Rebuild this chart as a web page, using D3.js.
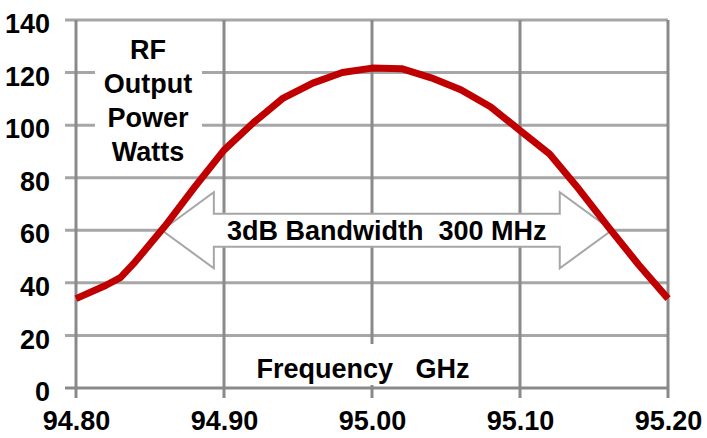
<!DOCTYPE html>
<html>
<head>
<meta charset="utf-8">
<script src="https://cdn.jsdelivr.net/npm/d3@7/dist/d3.min.js"></script>
<style>
  body { margin: 0; background: #fff; }
  text { font-family: "Liberation Sans", Arial, sans-serif; font-weight: bold; fill: #000; }
</style>
</head>
<body>
<div id="chart-area"></div>
<script>
// data
var freqs  = [94.80, 94.82, 94.83, 94.84, 94.86, 94.88, 94.90, 94.92, 94.94, 94.96, 94.98,
              95.00, 95.02, 95.04, 95.06, 95.08, 95.10, 95.12, 95.14, 95.16, 95.18, 95.20];
var power  = [34, 39, 42, 48, 61.5, 76.3, 90.5, 101, 110.3, 116, 120,
              121.7, 121.5, 118, 113.5, 107, 98, 89, 75.5, 61, 47, 34];
var xTicks = [94.80, 94.90, 95.00, 95.10, 95.20];
var yTicks = [0, 20, 40, 60, 80, 100, 120, 140];
var bandEdges = [94.858, 95.162];   // 3dB points
var bandLevel = 60;

var margin = { top: 20, right: 39, bottom: 50, left: 76 },
    width = 707 - margin.left - margin.right,
    height = 438 - margin.top - margin.bottom;

var svg = d3.select("#chart-area")
    .append("svg")
    .attr("width", width + margin.left + margin.right)
    .attr("height", height + margin.top + margin.bottom);

var g = svg.append("g")
    .attr("transform", "translate(" + margin.left + "," + margin.top + ")");

var x = d3.scaleLinear().domain([94.80, 95.20]).range([0, width]);
var y = d3.scaleLinear().domain([0, 140]).range([height, 0]);

// horizontal grid (sticks out left as tick marks)
g.selectAll(".hgrid")
    .data(yTicks)
    .enter().append("line")
    .attr("class", "hgrid")
    .attr("x1", -11)
    .attr("x2", width)
    .attr("y1", d => y(d))
    .attr("y2", d => y(d))
    .attr("stroke", d => d === 0 ? "#8a8a8a" : "#a6a6a6")
    .attr("stroke-width", 3);

// vertical grid (sticks out below as tick marks)
g.selectAll(".vgrid")
    .data(xTicks)
    .enter().append("line")
    .attr("class", "vgrid")
    .attr("x1", d => x(d))
    .attr("x2", d => x(d))
    .attr("y1", 0)
    .attr("y2", height + 10)
    .attr("stroke", "#8a8a8a")
    .attr("stroke-width", 3);

// axis labels
var yAxisCall = d3.axisLeft(y).tickValues(yTicks).tickSize(0).tickPadding(26);
var xAxisCall = d3.axisBottom(x).tickValues(xTicks).tickSize(0).tickPadding(23)
    .tickFormat(d3.format(".2f"));

var yAxisGroup = g.append("g").call(yAxisCall);
yAxisGroup.select(".domain").remove();
yAxisGroup.selectAll("text")
    .attr("dy", "0.47em")
    .style("font-size", "27px")
    .style("font-family", "'Liberation Sans', Arial, sans-serif");

var xAxisGroup = g.append("g")
    .attr("transform", "translate(0," + height + ")")
    .call(xAxisCall);
xAxisGroup.select(".domain").remove();
xAxisGroup.selectAll("text")
    .style("font-size", "27px")
    .style("font-family", "'Liberation Sans', Arial, sans-serif");

// white boxes behind the labels
g.append("rect")
    .attr("x", 19).attr("y", 12)
    .attr("width", 107).attr("height", 135)
    .attr("fill", "#fff");
g.append("rect")
    .attr("x", 176).attr("y", 324)
    .attr("width", 222).attr("height", 41)
    .attr("fill", "#fff");

// y label
var yLabel = g.append("text")
    .attr("x", 72)
    .attr("y", 21)
    .attr("text-anchor", "middle")
    .style("font-size", "27px");
["RF", "Output", "Power", "Watts"].forEach(function(t, i) {
    yLabel.append("tspan")
        .attr("x", 72)
        .attr("dy", i === 0 ? 18 : 34)
        .text(t);
});

// x label
g.append("text")
    .attr("x", 287)
    .attr("y", 358)
    .attr("text-anchor", "middle")
    .style("font-size", "27px")
    .style("white-space", "pre")
    .text("Frequency   GHz");

// double-headed 3dB arrow
var ax0 = x(bandEdges[0]), ax1 = x(bandEdges[1]), ay = y(bandLevel);
var headLen = 52, headHalf = 38, shaftHalf = 16.5;
var arrowPts = [
    [ax0, ay],
    [ax0 + headLen, ay - headHalf],
    [ax0 + headLen, ay - shaftHalf],
    [ax1 - headLen, ay - shaftHalf],
    [ax1 - headLen, ay - headHalf],
    [ax1, ay],
    [ax1 - headLen, ay + headHalf],
    [ax1 - headLen, ay + shaftHalf],
    [ax0 + headLen, ay + shaftHalf],
    [ax0 + headLen, ay + headHalf]
];
g.append("path")
    .attr("d", d3.line()(arrowPts) + "Z")
    .attr("fill", "#fff")
    .attr("stroke", "#a6a6a6")
    .attr("stroke-width", 2);

g.append("text")
    .attr("x", (ax0 + ax1) / 2)
    .attr("y", ay + 10)
    .attr("text-anchor", "middle")
    .style("font-size", "27px")
    .style("white-space", "pre")
    .text("3dB Bandwidth  300 MHz");

// power curve
var line = d3.line()
    .x((d, i) => x(freqs[i]))
    .y(d => y(d));

g.append("path")
    .datum(power)
    .attr("d", line)
    .attr("fill", "none")
    .attr("stroke", "#c00000")
    .attr("stroke-width", 7)
    .attr("stroke-linejoin", "round");
</script>
</body>
</html>
